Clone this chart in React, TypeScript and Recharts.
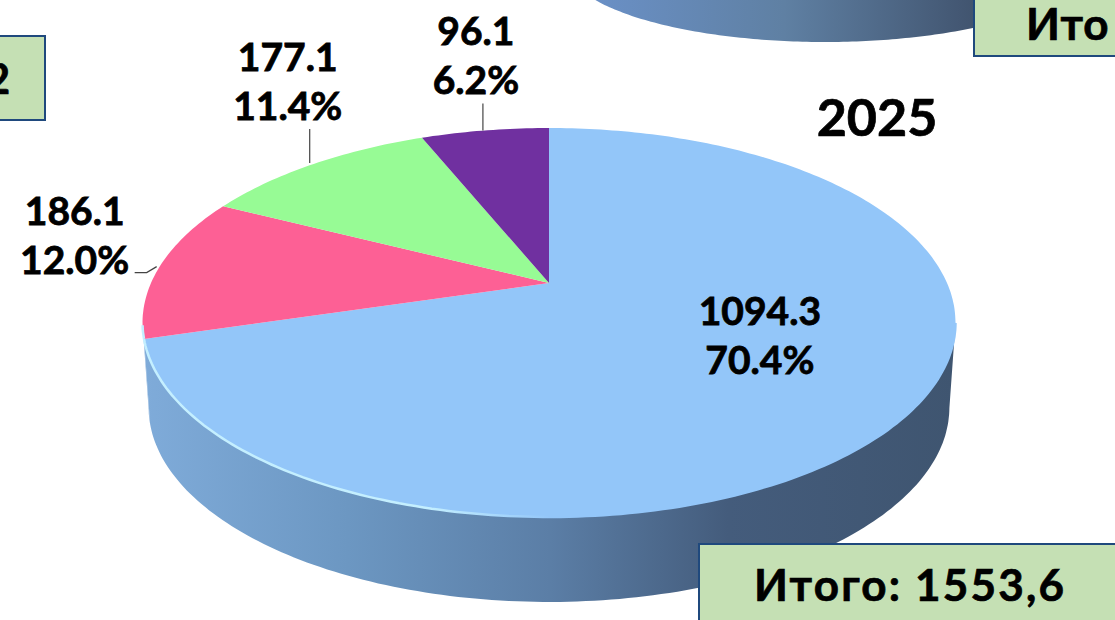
import React from 'react';
import { PieChart, Pie } from 'recharts';

const WIDTH = 1115;
const HEIGHT = 620;

const categories = ['Группа 1', 'Группа 2', 'Группа 3', 'Группа 4'];
const values = [1094.3, 186.1, 177.1, 96.1];
const colors = ['#93c6f9', '#fd6095', '#97fb95', '#7030a0'];
const totalLabel = 'Итого: 1553,6';
const yearLabel = '2025';

const pieData = categories.map((name, i) => ({ name, value: values[i], fill: colors[i] }));
const total = values.reduce((a, b) => a + b, 0);

// the neighbouring pie, only its lower edge is on the picture
const neighbourData = [{ name: 'Итого', value: 1 }];

const FONT = 'Lato, "Open Sans", sans-serif';

// the pie is tilted in perspective, so the apex is not the middle of the ellipse
const project = (angle: number, g: any) => {
  const rad = (angle * Math.PI) / 180;
  const u = Math.cos(rad);
  const v = Math.sin(rad);
  const d = 1 + g.k * v;
  return { x: g.cx + (g.a * u) / d, y: (g.cy + g.b * v) / d, v };
};

const TOP = { cx: 549, cy: 283, a: 398, b: -129, k: 0.203 };
const NEIGHBOUR = { cx: 825, cy: -37, a: 260, b: -79, k: 0 };
const DEPTH = 85;
const BOTTOM_SCALE = 0.985;

const arcPoints = (start: number, end: number, g: any) => {
  const n = Math.max(2, Math.ceil(Math.abs(end - start)));
  const pts = [];
  for (let i = 0; i <= n; i++) pts.push(project(start + ((end - start) * i) / n, g));
  return pts;
};

const toPath = (pts: { x: number; y: number }[]) =>
  pts.map((p, i) => `${i ? 'L' : 'M'}${p.x.toFixed(1)} ${p.y.toFixed(1)}`).join(' ');

const TopSector = (props: any) => {
  const pts = arcPoints(props.startAngle, props.endAngle, TOP);
  const rim = pts.filter((p) => p.v < -0.2);
  return (
    <g>
      <path d={`M${TOP.cx} ${TOP.cy} ${toPath(pts).replace('M', 'L')} Z`} fill={props.fill} />
      {rim.length > 1 && <path d={toPath(rim)} fill="none" stroke="url(#rimGrad)" strokeWidth={2.5} />}
    </g>
  );
};

const WallSector = (props: any) => {
  const rim = arcPoints(props.startAngle, props.endAngle, TOP).filter((p) => p.v < -0.2);
  if (rim.length < 2) return <g />;
  const lower = rim
    .map((p) => ({ x: TOP.cx + (p.x - TOP.cx) * BOTTOM_SCALE, y: p.y + DEPTH }))
    .reverse();
  return <path d={`${toPath(rim)} ${toPath(lower).replace('M', 'L')} Z`} fill="url(#wallGrad)" />;
};

const NeighbourSector = (props: any) => {
  const pts = arcPoints(props.startAngle, props.endAngle, NEIGHBOUR);
  return <path d={`${toPath(pts)} Z`} fill="url(#neighbourGrad)" />;
};

// label placement relative to the point of the rim at the middle of the slice
const labelOffsets = [
  { dx: -152, dy: -85, line: [] as number[][] },
  { dx: -85, dy: -42, line: [[-3, 0], [-13, 6], [-25, 6]] },
  { dx: -26, dy: -93, line: [[-4, -1], [-4, -35]] },
  { dx: -9, dy: -85, line: [[-2, 0], [-2, -27]] },
];

const renderLabel = (props: any) => {
  const { index, midAngle, value } = props;
  const rim = project(midAngle, TOP);
  const o = labelOffsets[index];
  const x = rim.x + o.dx;
  const y = rim.y + o.dy;
  return (
    <g key={index}>
      {o.line.length > 0 && (
        <polyline
          points={o.line.map(([a, b]) => `${rim.x + a},${rim.y + b}`).join(' ')}
          fill="none"
          stroke="#444"
          strokeWidth={1.2}
        />
      )}
      <text
        x={x}
        y={y}
        textAnchor="middle"
        fontFamily={FONT}
        fontWeight={700}
        fontSize={39}
        fill="#000"
        stroke="#000"
        strokeWidth={0.8}
      >
        <tspan x={x}>{value.toFixed(1)}</tspan>
        <tspan x={x} dy={49}>{`${((value / total) * 100).toFixed(1)}%`}</tspan>
      </text>
    </g>
  );
};

const boxStyle: React.CSSProperties = {
  position: 'absolute',
  boxSizing: 'border-box',
  background: '#c5e0b4',
  border: '2px solid #1f497d',
  color: '#000',
  fontFamily: FONT,
  fontWeight: 700,
  whiteSpace: 'nowrap',
  WebkitTextStroke: '0.7px #000',
};

export default function App() {
  return (
    <div style={{ position: 'fixed', left: 0, top: 0, width: WIDTH, height: HEIGHT, overflow: 'hidden', background: '#fff' }}>
      <PieChart width={WIDTH} height={HEIGHT} margin={{ top: 0, right: 0, bottom: 0, left: 0 }}>
        <defs>
          <linearGradient id="wallGrad" gradientUnits="userSpaceOnUse" x1="145" y1="0" x2="955" y2="0">
            <stop offset="0%" stopColor="#7fabd9" />
            <stop offset="25%" stopColor="#6c97c2" />
            <stop offset="50%" stopColor="#5b7ea6" />
            <stop offset="72%" stopColor="#445c7c" />
            <stop offset="100%" stopColor="#3f5570" />
          </linearGradient>
          <linearGradient id="rimGrad" gradientUnits="userSpaceOnUse" x1="145" y1="0" x2="955" y2="0">
            <stop offset="0%" stopColor="#c4efff" />
            <stop offset="35%" stopColor="#c4efff" />
            <stop offset="50%" stopColor="#93c6f9" />
            <stop offset="100%" stopColor="#93c6f9" />
          </linearGradient>
          <linearGradient id="neighbourGrad" gradientUnits="userSpaceOnUse" x1="593" y1="0" x2="975" y2="0">
            <stop offset="0%" stopColor="#6a90c6" />
            <stop offset="50%" stopColor="#5f80a3" />
            <stop offset="100%" stopColor="#41546f" />
          </linearGradient>
        </defs>
        <Pie
          data={neighbourData}
          dataKey="value"
          cx={825}
          cy={-37}
          outerRadius={260}
          startAngle={90}
          endAngle={-270}
          stroke="none"
          shape={NeighbourSector}
          isAnimationActive={false}
        />
        <Pie
          data={pieData}
          dataKey="value"
          cx={549}
          cy={283}
          outerRadius={398}
          startAngle={90}
          endAngle={-270}
          stroke="none"
          shape={WallSector}
          isAnimationActive={false}
        />
        <Pie
          data={pieData}
          dataKey="value"
          cx={549}
          cy={283}
          outerRadius={398}
          startAngle={90}
          endAngle={-270}
          stroke="none"
          shape={TopSector}
          label={renderLabel}
          labelLine={false}
          isAnimationActive={false}
        />
      </PieChart>
      <div style={{ position: 'absolute', left: 777, width: 200, top: 86, textAlign: 'center', fontFamily: FONT, fontWeight: 700, fontSize: 52, lineHeight: '60px', color: '#000', WebkitTextStroke: '0.7px #000' }}>
        {yearLabel}
      </div>
      <div style={{ ...boxStyle, left: -4, top: 35, width: 50, height: 86, fontSize: 42, lineHeight: '82px' }}>
        <span style={{ position: 'absolute', right: 34 }}>2</span>
      </div>
      <div style={{ ...boxStyle, left: 973, top: -4, width: 160, height: 61, fontSize: 44, lineHeight: '50px', paddingLeft: 51, letterSpacing: 1 }}>
        Ито
      </div>
      <div style={{ ...boxStyle, left: 698, top: 543, width: 430, height: 90, fontSize: 44, lineHeight: '78px', paddingLeft: 54, letterSpacing: 2.2 }}>
        {totalLabel}
      </div>
    </div>
  );
}
